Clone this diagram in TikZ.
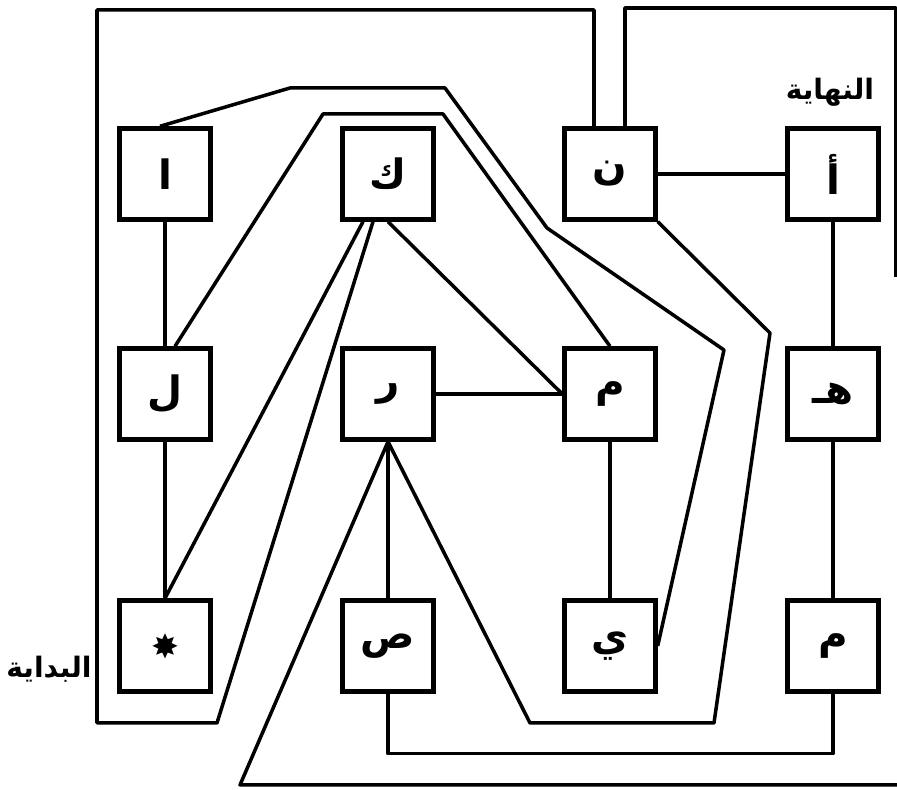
\documentclass[tikz,border=0pt]{standalone}
\usepackage{fontspec}
\usepackage{tikz}
\usetikzlibrary{calc}
\newfontfamily\arabicfont[Script=Arabic]{DejaVu Sans}
\newfontfamily\symbolfont{DejaVu Sans}
\TeXXeTstate=1

\begin{document}
\begin{tikzpicture}[thick,
        cell/.style={draw, line width=2.5pt, minimum size=1.82cm, inner sep=0pt,
            font=\arabicfont\bfseries\fontsize{23}{28}\selectfont},
        wire/.style={line width=2pt, line join=round},
        tag/.style={font=\arabicfont\bfseries\fontsize{16}{19}\selectfont}]
            \useasboundingbox (0,0) rectangle (17.94,15.8);

            % Letter cells, three rows of four
            \node[cell] (Alif)   at (3.3,12.32)   {ا};
            \node[cell] (Kaf)    at (7.76,12.32)  {ك};
            \node[cell] (Nun)    at (12.2,12.32)  {ن};
            \node[cell] (Hamza)  at (16.66,12.32) {أ};
            \node[cell] (Lam)    at (3.3,7.92)    {ل};
            \node[cell] (Ra)     at (7.76,7.92)   {ر};
            \node[cell] (Mim)    at (12.2,7.92)   {م};
            \node[cell] (Ha)     at (16.66,7.92)  {هـ};
            \node[cell] (Star)   at (3.3,2.88)    {\symbolfont\fontsize{19}{22}\selectfont ✸};
            \node[cell] (Sad)    at (7.76,2.88)   {ص};
            \node[cell] (Ya)     at (12.2,2.88)   {ي};
            \node[cell] (MimEnd) at (16.66,2.88)  {م};

            % Start and end labels
            \node[tag] (EndTag)   at (16.6,13.96) {\beginR النهاية\endR};
            \node[tag] (StartTag) at (0.98,2.42)  {\beginR البداية\endR};

            % Free ends at the picture edge
            \coordinate (RightTop) at (17.92,10.26);
            \coordinate (RightBottom) at (17.94,0.1);

            % Outer frame round the left side
            \draw[wire] ([xshift=-0.32cm]Nun.north) -- (11.88,15.6) -- (1.94,15.6)
                -- (1.94,1.34) -- (4.34,1.34) -- ([xshift=-0.3cm]Kaf.south);
            \draw[wire] ([xshift=0.3cm]Nun.north) -- (12.5,15.64) -- (17.92,15.64) -- (RightTop);

            % Long paths over the top
            \draw[wire] ([xshift=-0.1cm]Alif.north) -- (5.8,14.04) -- (8.9,14.04)
                -- (10.94,11.24) -- (14.48,8.8) -- (Ya.east);
            \draw[wire] ([xshift=0.2cm]Lam.north) -- (6.46,13.52) -- (8.86,13.52) -- (Mim.north);
            \draw[wire] (Nun.south east) -- (15.4,9.14) -- (14.28,1.34) -- (10.6,1.34) -- (Ra.south);

            % Lines out of kaf and ra
            \draw[wire] ([xshift=-0.5cm]Kaf.south) -- (Star.north);
            \draw[wire] (Kaf.south) -- (Mim.west);
            \draw[wire] (Ra.east) -- (Mim.west);
            \draw[wire] (Ra.south) -- (Sad.north);
            \draw[wire] (Ra.south) -- (4.8,0.1) -- (RightBottom);

            % Bottom loop
            \draw[wire] (Sad.south) |- ([yshift=-1.2cm]MimEnd.south) -- (MimEnd.south);

            % Straight links
            \draw[wire] (Alif) -- (Lam) -- (Star);
            \draw[wire] (Mim) -- (Ya);
            \draw[wire] (Nun) -- (Hamza);
            \draw[wire] (Hamza) -- (Ha) -- (MimEnd);
        \end{tikzpicture}
\end{document}
